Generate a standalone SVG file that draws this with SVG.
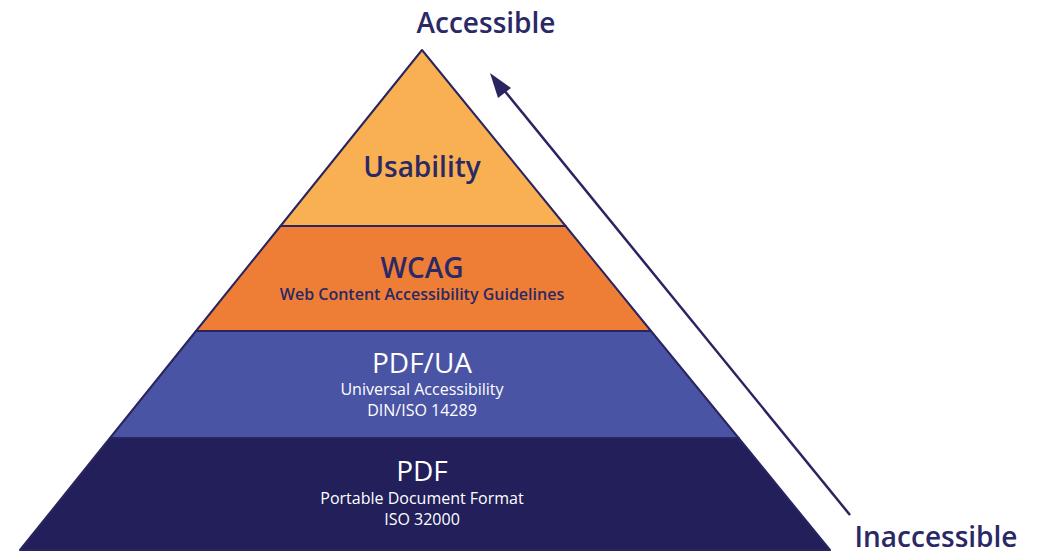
<svg xmlns="http://www.w3.org/2000/svg" width="1043" height="553" viewBox="0 0 1043 553">
<style>
.layer{stroke:#2a2560;stroke-width:2;stroke-linejoin:round}
.t{font-family:"Open Sans","Noto Sans",sans-serif;text-anchor:middle;font-weight:600}
.dark{fill:#2b2866}
.light{fill:#ffffff;font-weight:500}
.big{font-size:28px}
.small{font-size:16px}
.lbl{font-size:28px}
</style>
<rect width="1043" height="553" fill="#ffffff"/>
<g id="usability">
<polygon class="layer" points="422,50 565.6,226 280.5,226" fill="#f9b052"/>
<text class="t dark big" x="422" y="177">Usability</text>
</g>
<g id="wcag">
<polygon class="layer" points="280.5,226 565.6,226 651,331 196,331" fill="#ee7d35"/>
<text class="t dark big" x="422" y="278">WCAG</text>
<text class="t dark small" x="422" y="300">Web Content Accessibility Guidelines</text>
</g>
<g id="pdfua">
<polygon class="layer" points="196,331 651,331 738.6,438 110,438" fill="#4a54a5"/>
<text class="t light big" x="422" y="373">PDF/UA</text>
<text class="t light small" x="422" y="395">Universal Accessibility</text>
<text class="t light small" x="422" y="416">DIN/ISO 14289</text>
</g>
<g id="pdf">
<polygon class="layer" points="110,438 738.6,438 830,550 20,550" fill="#221f5a"/>
<text class="t light big" x="422" y="481">PDF</text>
<text class="t light small" x="422" y="504">Portable Document Format</text>
<text class="t light small" x="422" y="525">ISO 32000</text>
</g>
<g id="connectors">
<line x1="850" y1="515" x2="495" y2="79" stroke="#2a2560" stroke-width="2.5"/>
<path d="M490,73 L511,88 L498,98 Z" fill="#2a2560"/>
</g>
<g id="labels">
<text class="t dark lbl" x="936" y="547">Inaccessible</text>
<text class="t dark lbl" x="486" y="33">Accessible</text>
</g>
</svg>
